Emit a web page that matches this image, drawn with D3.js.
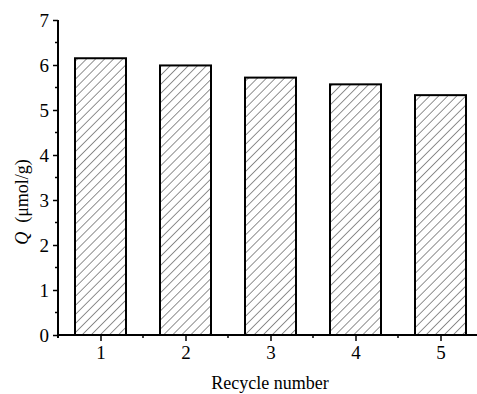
<!DOCTYPE html>
<html>
<head>
<meta charset="utf-8">
<script src="https://cdnjs.cloudflare.com/ajax/libs/d3/7.8.5/d3.min.js"></script>
<style>
body { margin: 0; background: #fff; }
text { font-family: "Liberation Serif", "DejaVu Serif", serif; fill: #000; }
</style>
</head>
<body>
<script>
var width = 477,
    height = 394,
    margin = {top: 20, right: -6, bottom: 59, left: 58};

var cycles = [1, 2, 3, 4, 5];
var qValues = [6.15, 5.99, 5.72, 5.57, 5.33];
var yTicks = [0, 1, 2, 3, 4, 5, 6, 7];

var svg = d3.select('body').append('svg')
    .attr('width', width)
    .attr('height', height);

var defs = svg.append('defs');
var pat = defs.append('pattern')
    .attr('id', 'hatch')
    .attr('patternUnits', 'userSpaceOnUse')
    .attr('width', 6.4)
    .attr('height', 6.4)
    .attr('patternTransform', 'rotate(45)');
pat.append('rect').attr('width', 6.4).attr('height', 6.4).attr('fill', '#fff');
pat.append('line')
    .attr('x1', 0).attr('y1', 0).attr('x2', 0).attr('y2', 6.4)
    .attr('stroke', '#222').attr('stroke-width', 1);

var x = d3.scaleLinear()
    .domain([0.5, 5.5])
    .range([margin.left, width - margin.right]);
var y = d3.scaleLinear()
    .domain([0, 7])
    .range([height - margin.bottom, margin.top]);

var barW = 51;

svg.selectAll('rect.bar')
    .data(qValues)
    .enter()
    .append('rect')
    .attr('class', 'bar')
    .attr('x', function (d, i) { return x(cycles[i]) - barW / 2; })
    .attr('y', function (d) { return y(d); })
    .attr('width', barW)
    .attr('height', function (d) { return y(0) - y(d); })
    .attr('fill', 'url(#hatch)')
    .attr('stroke', '#000')
    .attr('stroke-width', 2);

// y axis
var yAxis = d3.axisLeft(y)
    .tickValues(yTicks)
    .tickFormat(d3.format('d'))
    .tickSize(5)
    .tickPadding(4);
var gy = svg.append('g')
    .attr('transform', 'translate(' + margin.left + ',0)')
    .call(yAxis);
gy.select('.domain').remove();
gy.selectAll('.tick line').attr('stroke', '#000').attr('stroke-width', 1.5);
gy.selectAll('.tick text').style('font-size', '19px');
// minor y ticks
gy.selectAll('line.minor')
    .data(d3.range(0.5, 7, 1))
    .enter()
    .append('line')
    .attr('class', 'minor')
    .attr('x1', -3).attr('x2', 0)
    .attr('y1', function (d) { return y(d); })
    .attr('y2', function (d) { return y(d); })
    .attr('stroke', '#000').attr('stroke-width', 1.5);
gy.append('line')
    .attr('x1', 0).attr('x2', 0)
    .attr('y1', y(7)).attr('y2', y(0) + 3)
    .attr('stroke', '#000').attr('stroke-width', 2);

// x axis
var xAxis = d3.axisBottom(x)
    .tickValues(cycles)
    .tickFormat(d3.format('d'))
    .tickSize(6)
    .tickPadding(5);
var gx = svg.append('g')
    .attr('transform', 'translate(0,' + y(0) + ')')
    .call(xAxis);
gx.select('.domain').remove();
gx.selectAll('.tick line').attr('stroke', '#000').attr('stroke-width', 1.5);
gx.selectAll('.tick text').style('font-size', '19px');
gx.selectAll('line.minor')
    .data([1.5, 2.5, 3.5, 4.5])
    .enter()
    .append('line')
    .attr('class', 'minor')
    .attr('x1', function (d) { return x(d); })
    .attr('x2', function (d) { return x(d); })
    .attr('y1', 0).attr('y2', 3)
    .attr('stroke', '#000').attr('stroke-width', 1.5);
gx.append('line')
    .attr('x1', margin.left).attr('x2', width)
    .attr('y1', 0).attr('y2', 0)
    .attr('stroke', '#000').attr('stroke-width', 2);

// axis titles
svg.append('text')
    .attr('x', 270)
    .attr('y', 389)
    .attr('text-anchor', 'middle')
    .style('font-size', '18px')
    .text('Recycle number');

var yt = svg.append('text')
    .attr('transform', 'translate(28,' + 202 + ') rotate(-90)')
    .attr('text-anchor', 'middle')
    .style('font-size', '18px');
yt.append('tspan').style('font-style', 'italic').text('Q');
yt.append('tspan').text('\u2002(μmol/g)');
</script>
</body>
</html>
